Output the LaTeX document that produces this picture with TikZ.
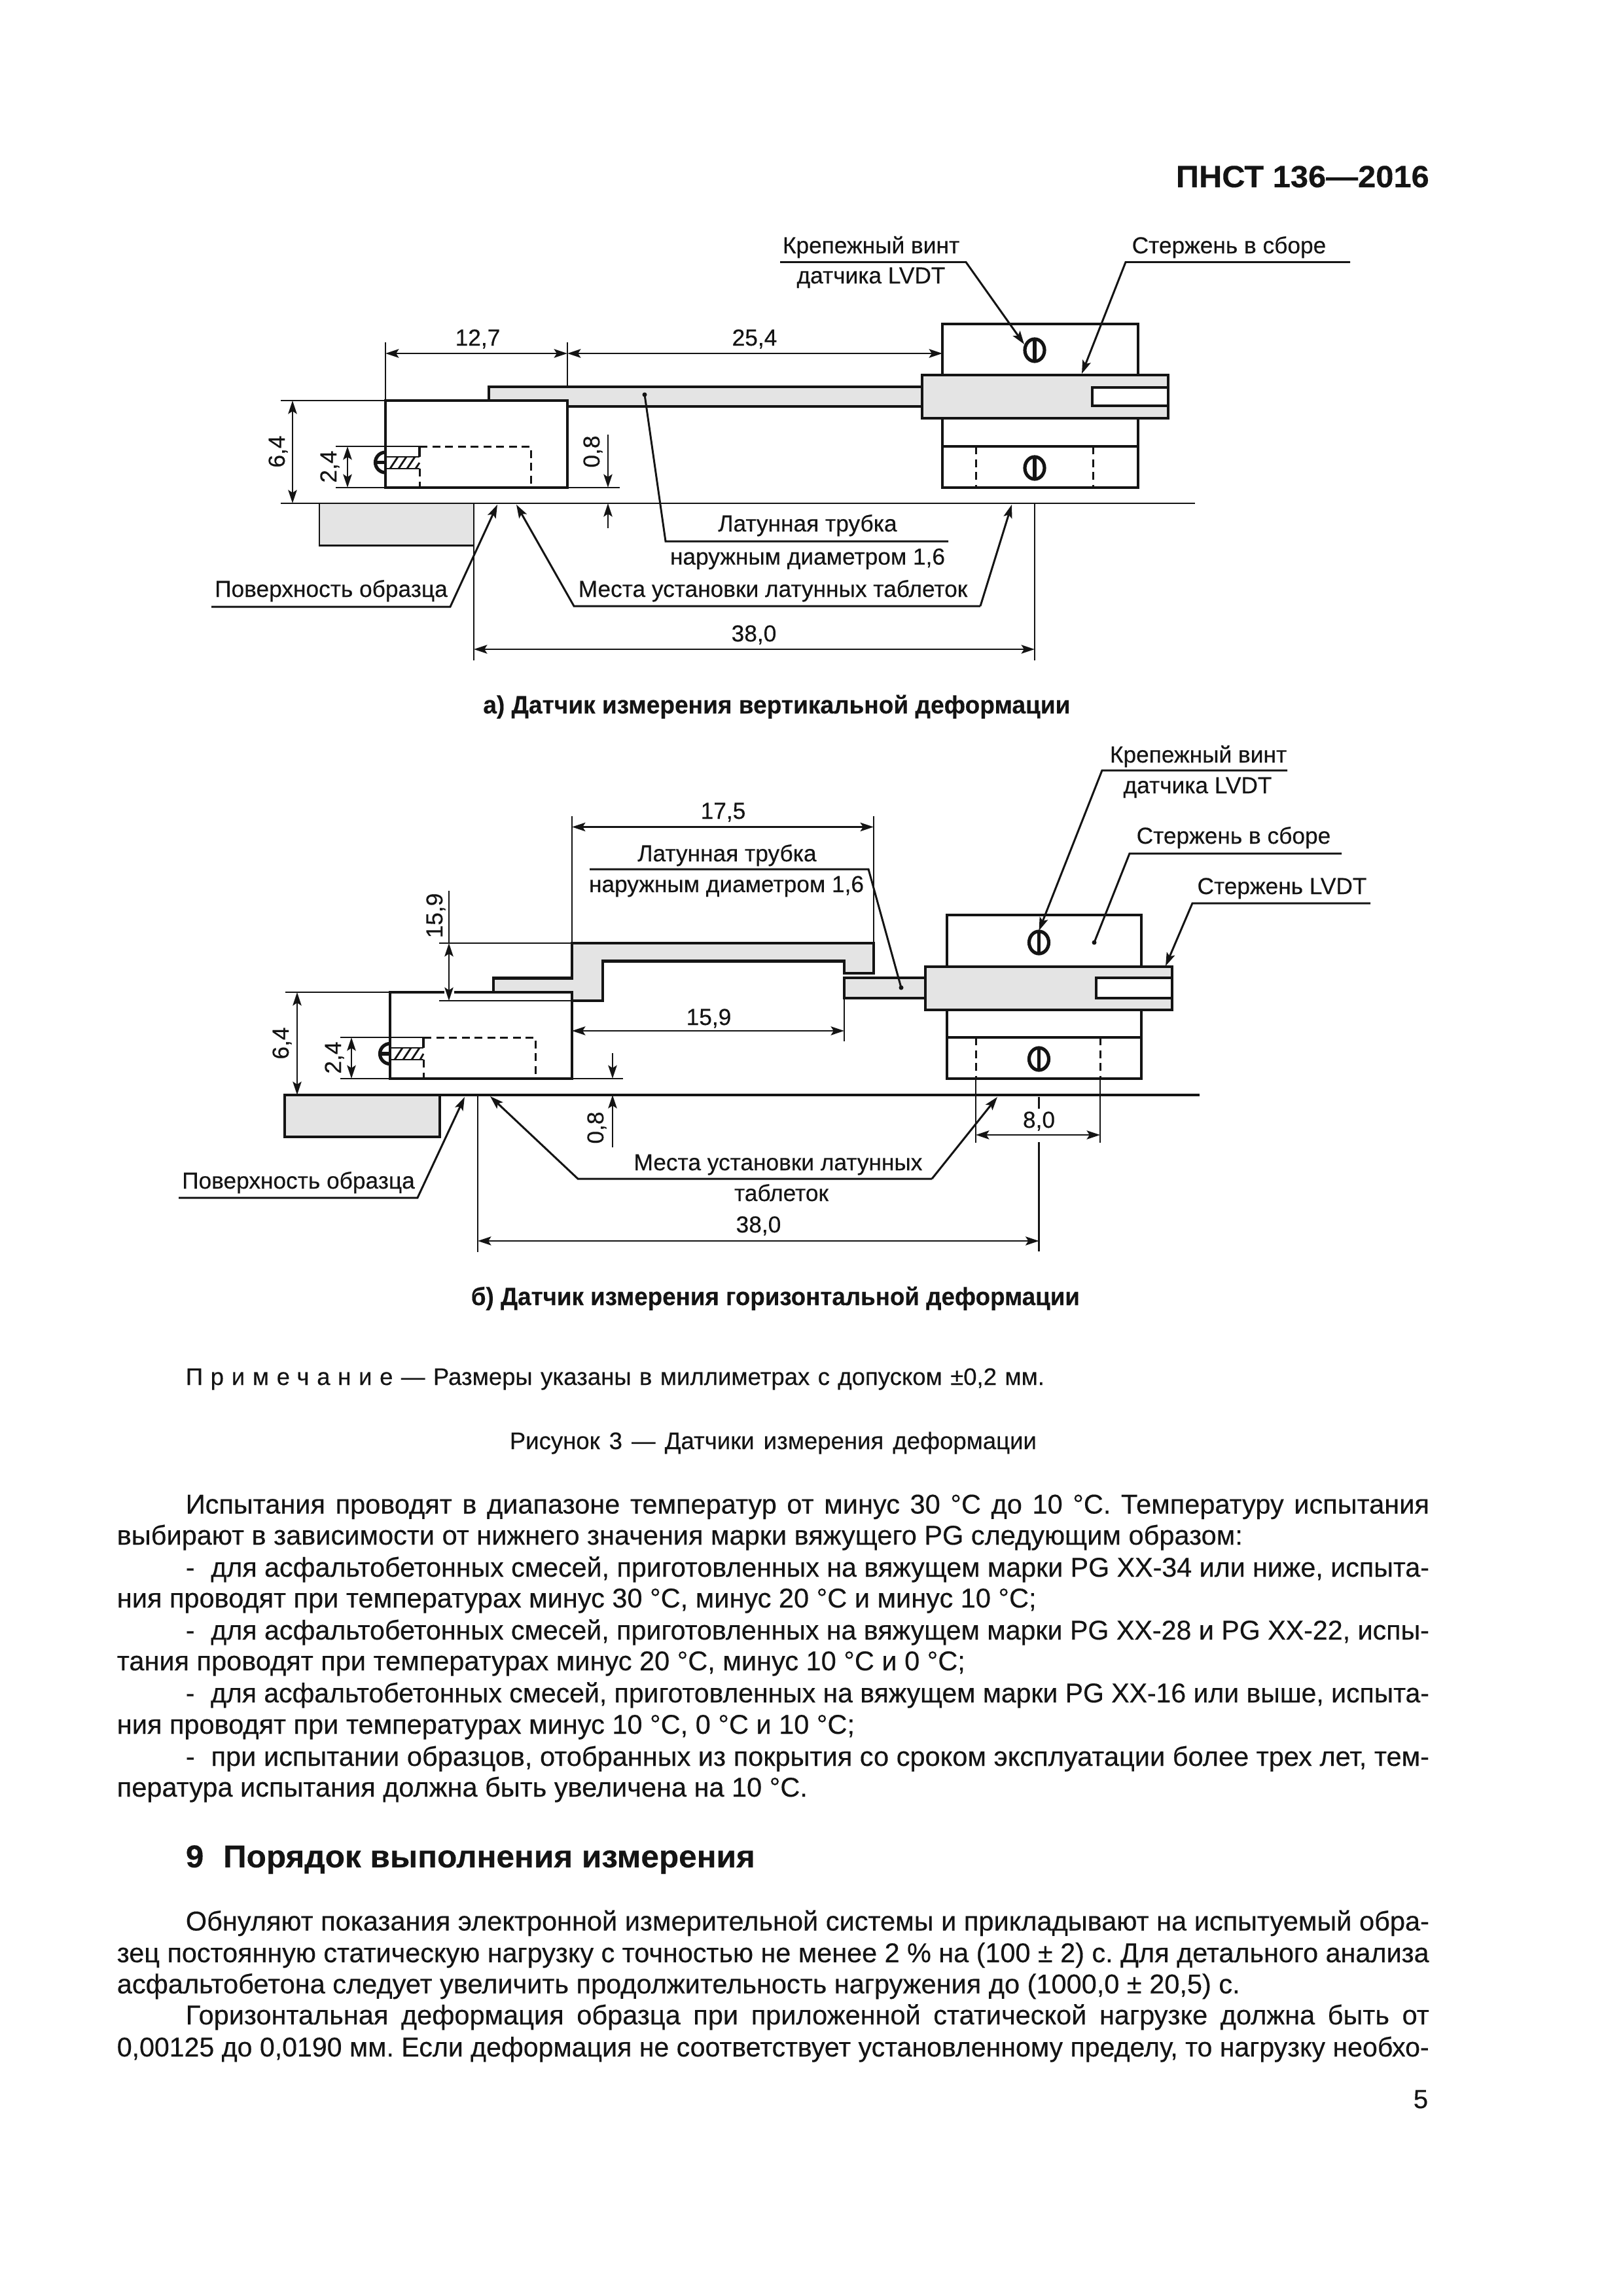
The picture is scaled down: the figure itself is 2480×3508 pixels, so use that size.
\documentclass[tikz,border=0pt]{standalone}
\usepackage{fontspec}
\setmainfont{Liberation Sans}[FakeBold=0.3]
\usetikzlibrary{arrows.meta}
\definecolor{ink}{gray}{0.08}
\definecolor{gfill}{gray}{0.895}
\newlength\pxu \setlength\pxu{0.2409pt}
\newsavebox\jbox
\newcommand\jl[2]{\sbox\jbox{#2}\ifdim\wd\jbox>#1\pxu\relax\resizebox{#1\pxu}{\height}{\usebox\jbox}\else\hbox to #1\pxu{#2}\fi}
\newcommand\jr[2]{\resizebox{#1\pxu}{\height}{#2}}
\frenchspacing
\tikzset{
 >={Stealth[length=4.9pt,width=3.2pt,inset=1pt]},
 thinl/.style={line width=0.68pt,draw=ink},
 thickl/.style={line width=1.05pt,draw=ink,line join=miter},
 screwl/.style={line width=1.25pt,draw=ink},
 hidl/.style={line width=0.72pt,draw=ink,dash pattern=on 2.9pt off 1.8pt},
 lead/.style={line width=0.72pt,draw=ink},
 dotm/.style={fill=ink,draw=none},
 lab/.style={inner sep=0pt,anchor=base,text=ink,font=\fontsize{8.5}{10}\selectfont},
 rlab/.style={lab,rotate=90},
 captxt/.style={inner sep=0pt,anchor=base west,text=ink,font=\fontsize{9.2}{11}\selectfont\bfseries},
 bodyt/.style={inner sep=0pt,anchor=base west,text=ink,font=\fontsize{10}{11.6}\selectfont},
 smallt/.style={inner sep=0pt,anchor=base west,text=ink,font=\fontsize{8.8}{11}\selectfont},
}
\newcommand\screw[1]{\draw[screwl] #1 ellipse [x radius=15,y radius=17]; \draw[screwl] #1 ++(0,-17) -- ++(0,34);}
\begin{document}
\begin{tikzpicture}[x=0.2409pt,y=-0.2409pt]
\path[use as bounding box,fill=white] (0,0) rectangle (2480,3508);
% header
\node[inner sep=0pt,anchor=base west,text=ink,font=\fontsize{11.3}{14}\selectfont\bfseries] (head) at (1796,286) {\jr{387}{ПНСТ 136—2016}};

% ===== part a =====
\draw[thinl,fill=gfill] (488,769) -- (488,833.5) -- (724,833.5) -- (724,769);
\draw[thinl] (429,769) -- (1826,769);
\draw[thinl] (724,769) -- (724,1009);
\draw[thinl] (1581,769) -- (1581,1009);
\draw[thinl,<->] (724,992) -- (1581,992);
% tube
\fill[gfill] (747,612) -- (747,591) -- (1409,591) -- (1409,621) -- (867,621) -- (867,612) -- cycle;
\draw[thickl] (747,612) -- (747,591) -- (1409,591);
\draw[thickl] (867,621) -- (1409,621);
% block
\draw[thickl] (589,612) rectangle (867,745);
\draw[hidl] (641,716) -- (641,745);
\draw[hidl] (641,682) -- (811,682) -- (811,745);
\draw[thinl] (589,698) -- (641,698) (589,716) -- (641,716);
\draw[thickl] (641,682) -- (641,698);
\draw[thinl] (596,716) -- (608,698) (609,716) -- (621,698) (622,716) -- (634,698) (635,716) -- (641,707);
\draw[screwl] (589,722) arc [start angle=90,end angle=270,radius=15.5];
\draw[screwl] (574,706.5) -- (589,706.5);
% dims a
\draw[thinl] (589,523) -- (589,612) (867,523) -- (867,591);
\draw[thinl,<->] (589,540) -- (867,540);
\draw[thinl,<->] (867,540) -- (1440,540);
\draw[thinl] (429,612) -- (589,612);
\draw[thinl,<->] (447,612) -- (447,769);
\draw[thinl] (513,682) -- (641,682) (513,745) -- (589,745);
\draw[thinl,<->] (531,682) -- (531,745);
\draw[thinl] (867,745) -- (947,745);
\draw[thinl,->] (929,664) -- (929,745);
\draw[thinl,->] (929,806.5) -- (929,769);
% rod holder
\draw[thickl] (1440,573) -- (1440,495) -- (1739,495) -- (1739,573);
\draw[thickl] (1440,639) -- (1440,682) (1739,639) -- (1739,682);
\draw[thickl] (1440,682) rectangle (1739,745);
\draw[hidl] (1491,682) -- (1491,745) (1670,682) -- (1670,745);
\draw[thickl,fill=gfill] (1409,573) rectangle (1785,639);
\draw[thickl,fill=white] (1785,592) -- (1669,592) -- (1669,620) -- (1785,620);
\draw[thickl] (1785,573) -- (1785,639);
\screw{(1581,535)}
\screw{(1581,715)}
% leaders a
\draw[lead,->] (1192,400.5) -- (1476,400.5) -- (1565,526);
\draw[lead,->] (2063,400.5) -- (1720,400.5) -- (1653,571);
\draw[lead,->] (323,927) -- (688,927) -- (760,771);
\draw[lead,->] (1498,926) -- (877,926) -- (789,771);
\draw[lead,->] (1498,926) -- (1546,771);
\draw[lead] (1449,827) -- (1017,827) -- (985,603);
\fill[dotm] (985,603) circle (3.5);
% labels a
\node[lab] (a1) at (730,528) {12,7};
\node[lab] (a2) at (1153,528) {25,4};
\node[rlab] (a3) at (435,690) {6,4};
\node[rlab] (a4) at (514,713) {2,4};
\node[rlab] (a5) at (916,690) {0,8};
\node[lab] (a6) at (1331,387) {Крепежный винт};
\node[lab] (a7) at (1331,433) {датчика LVDT};
\node[lab] (a8) at (1878,387) {Стержень в сборе};
\node[lab] (a9) at (1234,812) {Латунная трубка};
\node[lab] (a10) at (1234,862.6) {наружным диаметром 1,6};
\node[lab] (a11) at (506,912) {Поверхность образца};
\node[lab] (a12) at (1181,912) {Места установки латунных таблеток};
\node[lab] (a13) at (1152,980) {38,0};
\node[captxt] (a14) at (737.5,1090) {\jr{897}{а) Датчик измерения вертикальной деформации}};

% ===== part b =====
\draw[thickl,fill=gfill] (435,1673) rectangle (672,1737);
\draw[thickl] (435,1673) -- (1833,1673);
\draw[thinl] (730,1673) -- (730,1913);
\draw[thinl] (1587.5,1676) -- (1587.5,1694) (1587.5,1745) -- (1587.5,1912);
\draw[thinl,<->] (730,1896) -- (1587.5,1896);
% bracket
\draw[thinl] (874,1247) -- (874,1441) (1335,1247) -- (1335,1441);
\draw[thinl,<->] (874,1263.5) -- (1335,1263.5);
\fill[gfill] (754,1516) -- (754,1494.5) -- (874,1494.5) -- (874,1441) -- (1335,1441) -- (1335,1487) -- (1290,1487) -- (1290,1468.5) -- (921,1468.5) -- (921,1529) -- (874,1529) -- (874,1516) -- cycle;
\draw[thickl] (754,1516) -- (754,1494.5) -- (874,1494.5) -- (874,1441) -- (1335,1441) -- (1335,1487) -- (1290,1487) -- (1290,1468.5) -- (921,1468.5) -- (921,1529) -- (874,1529);
% block
\draw[thickl] (679,1516) -- (596,1516) -- (596,1648) -- (874,1648) -- (874,1516) -- (694,1516);
\draw[hidl] (647,1619) -- (647,1648);
\draw[hidl] (647,1585) -- (818,1585) -- (818,1648);
\draw[thinl] (596,1601) -- (647,1601) (596,1619) -- (647,1619);
\draw[thickl] (647,1585) -- (647,1601);
\draw[thinl] (603,1619) -- (615,1601) (616,1619) -- (628,1601) (629,1619) -- (641,1601) (642,1619) -- (647,1610);
\draw[screwl] (596,1625.5) arc [start angle=90,end angle=270,radius=15.5];
\draw[screwl] (581,1610) -- (596,1610);
% tube
\draw[thickl,fill=gfill] (1414,1494) -- (1290,1494) -- (1290,1525) -- (1414,1525);
\draw[thinl] (1290,1525) -- (1290,1591);
% dims b
\draw[thinl] (671,1441) -- (874,1441) (671,1529) -- (874,1529);
\draw[thinl] (686,1361) -- (686,1441);
\draw[thinl,<->] (686,1441) -- (686,1529);
\draw[thinl] (436,1516) -- (596,1516);
\draw[thinl,<->] (454,1516) -- (454,1673);
\draw[thinl] (520,1585) -- (647,1585) (520,1648) -- (596,1648);
\draw[thinl,<->] (537,1585) -- (537,1648);
\draw[thinl] (874,1648) -- (952,1648);
\draw[thinl,->] (936,1609) -- (936,1648);
\draw[thinl,->] (936,1753) -- (936,1673);
\draw[thinl,<->] (874,1575) -- (1290,1575);
% holder
\draw[thickl] (1447,1477) -- (1447,1398) -- (1744,1398) -- (1744,1477);
\draw[thickl] (1447,1543) -- (1447,1585) (1744,1543) -- (1744,1585);
\draw[thickl] (1447,1585) rectangle (1744,1648);
\draw[hidl] (1491,1585) -- (1491,1648) (1681,1585) -- (1681,1648);
\draw[thinl] (1491,1648) -- (1491,1746) (1681,1648) -- (1681,1746);
\draw[thinl,<->] (1491,1734) -- (1681,1734);
\draw[thickl,fill=gfill] (1414,1477) rectangle (1791,1543);
\draw[thickl,fill=white] (1791,1494) -- (1675,1494) -- (1675,1525) -- (1791,1525);
\draw[thickl] (1791,1477) -- (1791,1543);
\screw{(1587.5,1440)}
\screw{(1587.5,1618)}
% leaders b
\draw[lead,->] (1967,1177) -- (1684,1177) -- (1587.5,1422);
\draw[lead] (2050,1304) -- (1726,1304) -- (1672,1440);
\fill[dotm] (1672,1440) circle (3.5);
\draw[lead,->] (2094,1380) -- (1822,1380) -- (1781,1476);
\draw[lead,->] (273,1830) -- (638,1830) -- (710,1676);
\draw[lead,->] (1424,1801) -- (883,1801) -- (749,1675);
\draw[lead,->] (1424,1801) -- (1524,1676);
\draw[lead] (901,1328) -- (1327,1328) -- (1377,1509);
\fill[dotm] (1377,1509) circle (3.5);
% labels b
\node[lab] (b1) at (1105,1251) {17,5};
\node[lab] (b2) at (1083,1566) {15,9};
\node[rlab] (b3) at (441,1594) {6,4};
\node[rlab] (b4) at (521,1616) {2,4};
\node[rlab] (b5) at (676,1399) {15,9};
\node[rlab] (b6) at (922,1723) {0,8};
\node[lab] (b7) at (1831,1165) {Крепежный винт};
\node[lab] (b8) at (1830,1212) {датчика LVDT};
\node[lab] (b9) at (1885,1289) {Стержень в сборе};
\node[lab] (b10) at (1959,1366) {Стержень LVDT};
\node[lab] (b11) at (1111,1316) {Латунная трубка};
\node[lab] (b12) at (1110,1363) {наружным диаметром 1,6};
\node[lab] (b13) at (456,1816) {Поверхность образца};
\node[lab] (b14) at (1189,1788) {Места установки латунных};
\node[lab] (b15) at (1194,1835) {таблеток};
\node[lab] (b16) at (1159,1883) {38,0};
\node[lab] (b17) at (1587.5,1723) {8,0};
\node[captxt] (b18) at (719,1994) {\jr{930}{б) Датчик измерения горизонтальной деформации}};

% ===== text =====
\node[smallt] (n1) at (283,2116) {\jl{1312}{{\addfontfeature{LetterSpace=32}Примечание}\ — Размеры указаны в миллиметрах с допуском ±0,2 мм.}};
\node[smallt] (n2) at (778,2214) {\jl{805}{Рисунок 3 — Датчики измерения деформации}};
\node[bodyt] (t1) at (283,2312.5) {\jl{1900}{Испытания проводят в диапазоне температур от минус 30 °С до 10 °С. Температуру испытания}};
\node[bodyt] (t2) at (178,2360) {выбирают в зависимости от нижнего значения марки вяжущего PG следующим образом:};
\node[bodyt] (t3) at (283,2409) {\jl{1900}{-\hspace{0.6em}для асфальтобетонных смесей, приготовленных на вяжущем марки PG XX-34 или ниже, испыта-}};
\node[bodyt] (t4) at (178,2456) {ния проводят при температурах минус 30 °С, минус 20 °С и минус 10 °С;};
\node[bodyt] (t5) at (283,2505) {\jl{1900}{-\hspace{0.6em}для асфальтобетонных смесей, приготовленных на вяжущем марки PG XX-28 и PG XX-22, испы-}};
\node[bodyt] (t6) at (178,2552) {тания проводят при температурах минус 20 °С, минус 10 °С и 0 °С;};
\node[bodyt] (t7) at (283,2601) {\jl{1900}{-\hspace{0.6em}для асфальтобетонных смесей, приготовленных на вяжущем марки PG XX-16 или выше, испыта-}};
\node[bodyt] (t8) at (178,2649) {ния проводят при температурах минус 10 °С, 0 °С и 10 °С;};
\node[bodyt] (t9) at (283,2698) {\jl{1900}{-\hspace{0.6em}при испытании образцов, отобранных из покрытия со сроком эксплуатации более трех лет, тем-}};
\node[bodyt] (t10) at (178,2745) {пература испытания должна быть увеличена на 10 °С.};
\node[inner sep=0pt,anchor=base west,text=ink,font=\fontsize{11.6}{13}\selectfont\bfseries] (h9) at (283,2853) {\jr{870}{9\hspace{0.6em}Порядок выполнения измерения}};
\node[bodyt] (t11) at (283,2949.5) {\jl{1900}{Обнуляют показания электронной измерительной системы и прикладывают на испытуемый обра-}};
\node[bodyt] (t12) at (178,2998) {\jl{2005}{зец постоянную статическую нагрузку с точностью не менее 2 \% на (100 ± 2) с. Для детального анализа}};
\node[bodyt] (t13) at (178,3045.6) {асфальтобетона следует увеличить продолжительность нагружения до (1000,0 ± 20,5) с.};
\node[bodyt] (t14) at (283,3093) {\jl{1900}{Горизонтальная деформация образца при приложенной статической нагрузке должна быть от}};
\node[bodyt] (t15) at (178,3142) {\jl{2005}{0,00125 до 0,0190 мм. Если деформация не соответствует установленному пределу, то нагрузку необхо-}};
\node[inner sep=0pt,anchor=base east,text=ink,font=\fontsize{9.7}{11.6}\selectfont] (pg) at (2183,3221) {5};
\end{tikzpicture}
\end{document}
